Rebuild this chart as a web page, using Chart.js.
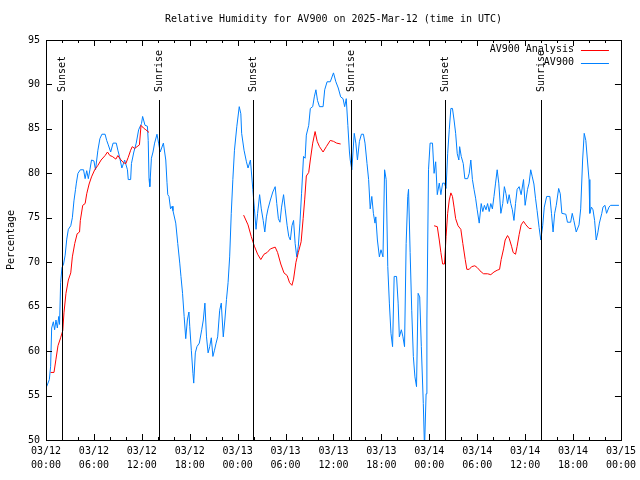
<!DOCTYPE html>
<html>
<head>
<meta charset="utf-8">
<script src="https://cdn.jsdelivr.net/npm/chart.js@4.4.1/dist/chart.umd.min.js"></script>
<style>
  html, body { margin: 0; background: #fff; }
</style>
</head>
<body>
<canvas id="rh-chart" width="640" height="480"></canvas>
<script>
// hours since 2025-03-12 00:00 UTC
const blueHours = [0.08,0.42,0.58,0.71,0.92,1.08,1.25,1.42,1.6,1.7,1.83,2.0,2.2,2.4,2.6,2.8,3.1,3.3,3.5,3.7,3.8,4.0,4.3,4.7,4.9,5.1,5.3,5.5,5.7,6.0,6.2,6.5,6.75,7.0,7.4,7.6,7.8,8.1,8.4,8.8,9.0,9.2,9.5,9.85,10.2,10.3,10.6,10.7,11.0,11.3,11.6,11.96,12.1,12.4,12.7,12.8,12.9,13.0,13.2,13.4,13.6,13.9,14.1,14.3,14.7,15.0,15.15,15.25,15.4,15.6,15.8,15.9,16.25,16.5,16.75,16.9,17.1,17.3,17.5,17.7,17.9,18.0,18.2,18.4,18.5,18.7,18.9,19.2,19.5,19.7,19.9,20.1,20.3,20.5,20.7,20.9,21.1,21.3,21.5,21.75,21.95,22.2,22.4,22.6,22.8,23.0,23.2,23.4,23.6,23.9,24.2,24.4,24.5,24.8,25.1,25.3,25.6,25.9,26.1,26.3,26.5,26.75,26.96,27.2,27.4,27.6,27.8,28.1,28.4,28.7,28.9,29.1,29.3,29.5,29.75,29.95,30.2,30.4,30.6,30.8,31.0,31.2,31.4,31.6,31.8,32.0,32.25,32.45,32.6,32.9,33.1,33.4,33.6,33.8,34.0,34.25,34.7,34.9,35.2,35.6,36.0,36.3,36.6,36.9,37.2,37.4,37.6,37.8,38.0,38.1,38.3,38.6,38.8,39.0,39.25,39.5,39.75,39.95,40.2,40.4,40.6,40.8,41.0,41.2,41.3,41.5,41.75,41.95,42.2,42.4,42.6,42.8,43.0,43.2,43.4,43.6,43.9,44.1,44.25,44.5,44.7,44.9,45.1,45.3,45.4,45.6,45.8,46.0,46.2,46.4,46.6,46.8,47.0,47.25,47.4,47.6,47.7,47.9,48.1,48.4,48.6,48.8,49.0,49.25,49.45,49.67,49.9,50.1,50.3,50.5,50.7,50.9,51.1,51.3,51.5,51.7,51.8,52.0,52.25,52.45,52.8,53.0,53.2,53.4,53.6,53.8,54.0,54.25,54.5,54.7,54.9,55.1,55.3,55.5,55.7,55.9,56.1,56.3,56.5,56.7,56.96,57.2,57.4,57.6,57.8,58.0,58.2,58.4,58.6,58.8,59.0,59.25,59.5,59.8,60.0,60.3,60.5,60.7,60.9,61.1,61.3,61.5,61.75,61.96,62.2,62.4,62.7,63.1,63.3,63.5,63.7,63.9,64.2,64.4,64.6,65.1,65.3,65.7,65.9,66.1,66.4,66.75,66.96,67.2,67.4,67.6,67.8,68.0,68.1,68.3,68.5,68.7,68.9,69.1,69.3,69.6,69.75,70.0,70.2,70.5,70.7,71.75];
const blueValues = [56.0,56.8,58.3,62.6,63.3,62.4,63.5,62.6,63.9,63.0,67.7,69.4,69.8,70.8,72.6,73.7,74.1,75.0,76.9,78.2,78.9,80.0,80.4,80.4,79.4,80.3,79.4,80.4,81.5,81.4,80.4,82.6,83.9,84.4,84.4,83.7,83.2,82.4,83.4,83.4,82.6,81.9,80.6,81.5,80.4,79.3,79.3,81.1,82.4,83.4,84.9,85.6,86.4,85.4,85.3,83.7,79.4,78.5,81.7,82.4,83.4,84.4,83.4,82.4,83.4,81.5,79.0,77.6,77.4,76.0,76.3,75.8,74.4,72.1,69.9,68.4,66.5,63.9,61.4,63.5,64.4,62.8,60.1,57.5,56.4,59.8,60.5,60.9,62.4,63.5,65.4,61.6,59.8,60.5,61.5,59.4,60.1,60.9,61.6,64.6,65.4,61.6,63.5,65.8,67.7,70.6,75.5,79.3,82.6,85.3,87.5,86.7,84.5,82.6,81.3,80.6,81.5,78.2,76.0,73.7,75.5,77.6,76.0,74.7,73.4,75.1,76.0,77.0,77.9,78.5,76.6,74.9,74.5,76.2,77.6,76.0,74.1,72.9,72.5,74.1,74.7,72.1,70.6,71.8,74.4,77.7,81.9,81.7,84.3,85.4,87.3,87.5,88.6,89.4,88.2,87.5,87.5,89.4,90.3,90.3,91.3,90.3,89.6,88.6,88.4,87.5,88.4,85.4,82.4,81.5,80.4,84.5,83.4,81.5,83.6,84.4,84.4,83.4,81.1,79.3,76.0,77.4,75.5,74.4,75.1,72.5,70.6,71.4,70.6,80.4,79.3,69.5,65.4,62.0,60.5,68.4,68.4,65.4,61.6,62.4,61.6,60.5,72.1,77.4,78.2,71.1,64.6,59.4,57.1,56.0,66.5,66.1,60.5,54.1,49.0,55.2,63.5,80.4,83.4,83.4,80.0,81.3,77.6,78.9,77.6,78.9,78.9,78.3,82.2,84.9,87.3,87.3,86.0,84.5,82.2,81.5,83.0,81.9,81.1,79.4,79.4,80.0,81.5,79.3,78.2,77.2,75.9,74.4,76.6,75.7,76.4,75.9,76.6,75.7,76.6,76.0,77.4,78.9,80.4,78.9,75.5,76.6,78.5,77.7,76.6,77.6,76.6,75.9,74.7,76.6,78.2,78.5,77.6,79.3,76.4,78.2,78.9,80.4,79.6,78.8,77.2,75.8,73.9,72.5,74.1,76.2,77.4,77.4,75.5,73.4,75.5,76.4,78.3,77.7,75.5,75.4,74.5,74.5,75.5,74.7,73.4,74.2,76.0,81.5,84.5,83.7,81.5,79.3,75.5,76.2,75.9,74.7,72.5,73.3,74.4,75.5,76.2,76.4,75.5,76.2,76.4,76.4];

// analysis runs, null = gap between runs
const redHours = [0.58,1.0,1.25,1.5,1.83,2.1,2.25,2.5,2.8,3.1,3.3,3.6,3.9,4.2,4.3,4.6,4.9,5.1,5.4,5.7,6.1,6.5,6.9,7.4,7.7,8.0,8.3,8.75,9.0,9.3,9.7,10.0,10.3,10.6,10.8,11.1,11.4,11.7,11.9,12.2,12.5,12.9,
  18,
  24.75,25.3,25.7,26.1,26.5,26.9,27.3,27.7,28.1,28.7,29.0,29.4,29.8,30.2,30.5,30.8,31.0,31.3,31.6,31.95,32.2,32.4,32.6,32.9,33.1,33.4,33.7,33.96,34.25,34.7,35.1,35.6,36.0,36.4,36.9,
  42,
  48.6,49.0,49.25,49.45,49.67,49.9,50.1,50.3,50.5,50.7,50.9,51.1,51.3,51.6,51.95,52.2,52.5,52.7,53.0,53.3,53.7,54.0,54.5,54.8,55.3,55.7,56.1,56.5,56.8,57.0,57.3,57.5,57.8,58.0,58.3,58.5,58.8,59.0,59.25,59.5,59.8,60.1,60.5,60.8];
const redValues = [57.6,57.6,59.1,60.6,61.5,62.3,64.3,66.5,68.0,68.8,70.6,72.1,73.2,73.4,74.7,76.4,76.6,77.7,78.8,79.6,80.4,80.9,81.5,82.0,82.4,82.0,81.9,81.6,82.0,81.6,81.2,81.1,81.8,82.6,83.0,82.8,83.0,83.2,85.4,85.1,84.9,84.6,
  null,
  75.3,74.2,72.9,71.8,70.9,70.3,70.9,71.1,71.5,71.7,71.1,69.8,68.8,68.5,67.7,67.4,68.1,70.0,71.1,72.3,74.9,77.1,79.7,80.1,81.5,83.4,84.7,83.6,83.0,82.4,83.0,83.7,83.6,83.4,83.3,
  null,
  74.1,74.0,72.5,71.1,69.8,69.8,72.9,75.5,77.0,77.8,77.4,76.2,74.9,74.1,73.7,72.1,70.3,69.2,69.2,69.5,69.6,69.4,68.9,68.7,68.7,68.6,68.9,69.1,69.2,70.3,71.5,72.5,73.0,72.7,71.8,71.1,70.9,71.8,73.1,74.2,74.6,74.2,73.8,73.8];

const sunHours = [1.95, 14.17, 25.92, 38.2, 49.96, 62.04];
const sunLabels = ['Sunset', 'Sunrise', 'Sunset', 'Sunrise', 'Sunset', 'Sunrise'];

const dayLabels = ['03/12', '03/13', '03/14', '03/15'];
const seriesNames = ['AV900 Analysis', 'AV900'];
const seriesColors = ['#ff0000', '#0080ff'];
const chartTitle = 'Relative Humidity for AV900 on 2025-Mar-12 (time in UTC)';

const FONT = "'DejaVu Sans Mono', monospace";

function toPoints(hours, values) {
  return hours.map((h, i) => ({ x: h, y: values[i] }));
}

function pad2(n) {
  return String(n).padStart(2, '0');
}

// gnuplot style: box frame, inward ticks on all sides, sun lines, legend, title over plot
const gnuplotBits = {
  id: 'gnuplotBits',
  afterDatasetsDraw(chart) {
    const { ctx, chartArea: a, scales } = chart;
    const xs = scales.x, ys = scales.y;
    ctx.save();
    ctx.strokeStyle = '#000';
    ctx.lineWidth = 1;
    ctx.font = '10px ' + FONT;
    ctx.fillStyle = '#000';

    // title, centred on the plot area
    ctx.textAlign = 'center';
    ctx.textBaseline = 'middle';
    ctx.fillText(chartTitle, (a.left + a.right) / 2, 19);

    // sunrise / sunset markers
    sunHours.forEach((h, i) => {
      const px = Math.round(xs.getPixelForValue(h)) + 0.5;
      ctx.beginPath();
      ctx.moveTo(px, a.top + 60);
      ctx.lineTo(px, a.bottom);
      ctx.stroke();
      ctx.save();
      ctx.translate(px, a.top + 52);
      ctx.rotate(-Math.PI / 2);
      ctx.textAlign = 'left';
      ctx.textBaseline = 'middle';
      ctx.fillText(sunLabels[i], 0, 0);
      ctx.restore();
    });

    // frame
    ctx.strokeRect(Math.round(a.left) + 0.5, Math.round(a.top) + 0.5,
      Math.round(a.right - a.left), Math.round(a.bottom - a.top));

    // x ticks
    for (let h = xs.min; h <= xs.max; h += 2) {
      const px = Math.round(xs.getPixelForValue(h)) + 0.5;
      const len = h % 6 === 0 ? 6 : 3;
      ctx.beginPath();
      ctx.moveTo(px, a.bottom); ctx.lineTo(px, a.bottom - len);
      ctx.moveTo(px, a.top); ctx.lineTo(px, a.top + len);
      ctx.stroke();
    }
    // y ticks
    for (let v = ys.min; v <= ys.max; v += 5) {
      const py = Math.round(ys.getPixelForValue(v)) + 0.5;
      ctx.beginPath();
      ctx.moveTo(a.left, py); ctx.lineTo(a.left + 6, py);
      ctx.moveTo(a.right, py); ctx.lineTo(a.right - 6, py);
      ctx.stroke();
    }

    // legend
    ctx.textAlign = 'right';
    ctx.textBaseline = 'middle';
    chart.data.datasets.forEach((ds, i) => {
      const y = a.top + 9.5 + i * 13;
      ctx.fillStyle = '#000';
      ctx.fillText(ds.label, a.right - 47, y);
      ctx.strokeStyle = ds.borderColor;
      ctx.beginPath();
      ctx.moveTo(a.right - 40, Math.round(y) + 0.5);
      ctx.lineTo(a.right - 12, Math.round(y) + 0.5);
      ctx.stroke();
    });
    ctx.restore();
  }
};

const ctx = document.getElementById('rh-chart').getContext('2d');
new Chart(ctx, {
  type: 'line',
  data: {
    datasets: [
      {
        label: seriesNames[0],
        data: toPoints(redHours, redValues),
        borderColor: seriesColors[0],
        borderWidth: 1,
        pointRadius: 0,
        tension: 0,
        spanGaps: false,
      },
      {
        label: seriesNames[1],
        data: toPoints(blueHours, blueValues),
        borderColor: seriesColors[1],
        borderWidth: 1,
        pointRadius: 0,
        tension: 0,
      },
    ],
  },
  options: {
    responsive: false,
    animation: false,
    devicePixelRatio: 1,
    layout: { padding: { left: 0, right: 18, top: 40, bottom: 0 } },
    plugins: {
      legend: { display: false },
      tooltip: { enabled: false },
      title: { display: false },
    },
    scales: {
      x: {
        type: 'linear',
        min: 0,
        max: 72,
        afterFit: (s) => { s.height = 40; },
        grid: { display: false, drawTicks: false },
        border: { display: false },
        ticks: {
          stepSize: 6,
          autoSkip: false,
          maxRotation: 0,
          padding: 4,
          color: '#000',
          font: { family: FONT, size: 10, lineHeight: 1.4 },
          callback: (v) => [dayLabels[Math.floor(v / 24)], pad2(v % 24) + ':00'],
        },
      },
      y: {
        min: 50,
        max: 95,
        afterFit: (s) => { s.width = 46; },
        grid: { display: false, drawTicks: false },
        border: { display: false },
        ticks: {
          stepSize: 5,
          padding: 6,
          color: '#000',
          font: { family: FONT, size: 10 },
        },
        title: {
          display: true,
          text: 'Percentage',
          color: '#000',
          padding: { top: 5, bottom: 0 },
          font: { family: FONT, size: 10 },
        },
      },
    },
  },
  plugins: [gnuplotBits],
});
</script>
</body>
</html>
